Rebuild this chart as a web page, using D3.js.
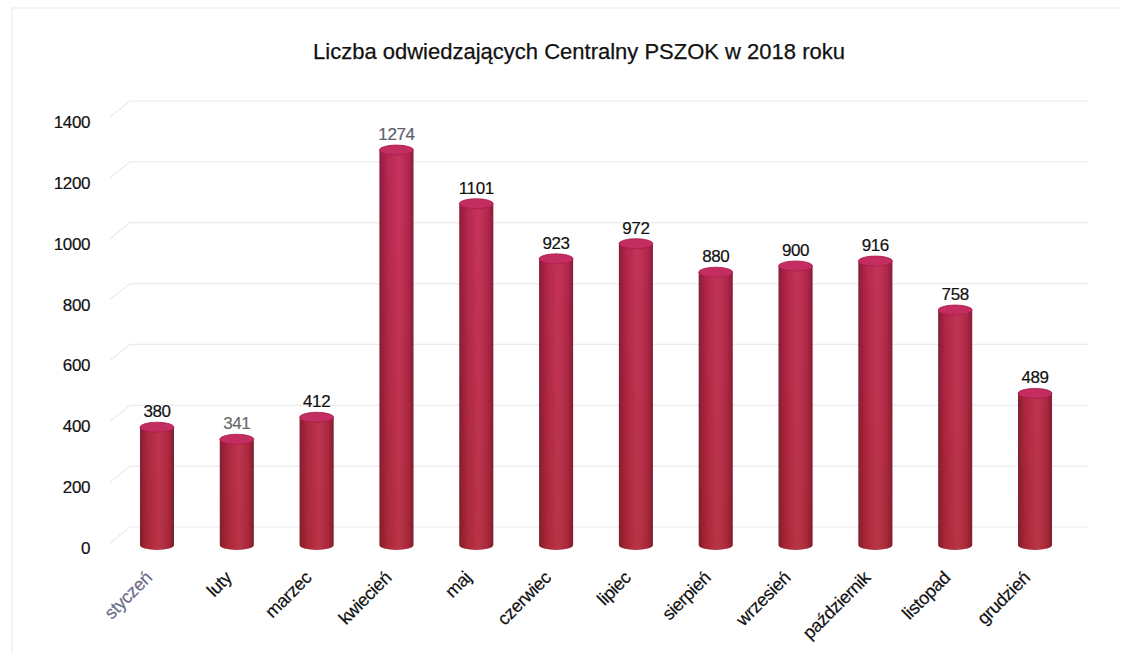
<!DOCTYPE html>
<html><head><meta charset="utf-8">
<script src="https://cdn.jsdelivr.net/npm/d3@7"></script>
<style>body{margin:0;background:#fff;}svg{display:block;font-family:"Liberation Sans",Arial,sans-serif;}</style>
</head><body><svg id="c" width="1130" height="660"></svg>
<script>
const title = "Liczba odwiedzających Centralny PSZOK w 2018 roku";
const months = ["styczeń","luty","marzec","kwiecień","maj","czerwiec","lipiec","sierpień","wrzesień","październik","listopad","grudzień"];
const visitors = [380,341,412,1274,1101,923,972,880,900,916,758,489];
const yTicks = [0,200,400,600,800,1000,1200,1400];
const valueLabelColors = ["#111","#6a6a6a","#111","#5d5d72","#111","#111","#111","#111","#111","#111","#111","#111"];
const monthLabelColors = ["#6c6c8c","#111","#111","#111","#111","#111","#111","#111","#111","#111","#111","#111"];

const svg = d3.select("#c");
const defs = svg.append("defs");

// scales: front axis labels, back-wall gridlines, bars (mid depth)
const yAxis = d3.scaleLinear().domain([0,1400]).range([548,122]);
const yBack = d3.scaleLinear().domain([0,1400]).range([527,101]);
const yBar = d3.scaleLinear().domain([0,1400]).range([545,111]);
const x = d3.scalePoint().domain(months).range([157,1035]);
const bw = 34;

// frame
svg.append("path").attr("d","M12,652 L12,8 L1120,8").attr("fill","none").attr("stroke","#efefef").attr("stroke-width",1.5);

// title
svg.append("text").attr("x",579).attr("y",59).attr("text-anchor","middle")
  .attr("font-size",22).attr("fill","#111").attr("stroke","#111").attr("stroke-width",0.25).text(title);

// gridlines (back wall + side wall diagonal)
const grid = svg.append("g").attr("stroke","#ebebeb").attr("stroke-width",1.2).attr("fill","none");
yTicks.forEach(t=>{
  grid.append("path").attr("d",`M110,${yBack(t)+16} L130,${yBack(t)} L1088,${yBack(t)}`);
});

// y axis labels
svg.append("g").selectAll("text").data(yTicks).join("text")
  .attr("x",90).attr("y",d=>yAxis(d)+6).attr("text-anchor","end")
  .attr("font-size",17).attr("letter-spacing","-0.4").attr("fill","#111")
  .attr("stroke","#111").attr("stroke-width",0.2).text(d=>d);

// gradients
const vg = defs.append("linearGradient").attr("id","vg").attr("gradientUnits","userSpaceOnUse")
  .attr("x1",0).attr("y1",yBar(1400)).attr("x2",0).attr("y2",yBar(0));
vg.append("stop").attr("offset","0%").attr("stop-color","#c4285a");
vg.append("stop").attr("offset","100%").attr("stop-color","#b42a3c");
const hg = defs.append("linearGradient").attr("id","hg").attr("x1","0%").attr("x2","100%").attr("y1","0").attr("y2","0");
hg.append("stop").attr("offset","0%").attr("stop-color","#000").attr("stop-opacity",0.28);
hg.append("stop").attr("offset","25%").attr("stop-color","#000").attr("stop-opacity",0.05);
hg.append("stop").attr("offset","55%").attr("stop-color","#fff").attr("stop-opacity",0.05);
hg.append("stop").attr("offset","85%").attr("stop-color","#000").attr("stop-opacity",0.08);
hg.append("stop").attr("offset","100%").attr("stop-color","#000").attr("stop-opacity",0.3);

const ry = 5;
const bars = svg.append("g").selectAll("g").data(months.map((m,i)=>({m,v:visitors[i],i}))).join("g");
function body(d){
  const cx = x(d.m), l = cx-bw/2, r = cx+bw/2, t = yBar(d.v), b = yBar(0);
  return `M${l},${t} L${l},${b} A${bw/2},${ry} 0 0 0 ${r},${b} L${r},${t} Z`;
}
bars.append("path").attr("d",body).attr("fill","url(#vg)");
bars.append("path").attr("d",body).attr("fill","url(#hg)");
bars.append("ellipse").attr("cx",d=>x(d.m)).attr("cy",d=>yBar(d.v)).attr("rx",bw/2).attr("ry",ry)
  .attr("fill","#c32d62").attr("stroke","#a81e48").attr("stroke-width",0.8);

// value labels
svg.append("g").selectAll("text").data(visitors).join("text")
  .attr("x",(d,i)=>x(months[i])).attr("y",d=>yBar(d)-10).attr("text-anchor","middle")
  .attr("font-size",17).attr("letter-spacing","-0.4").attr("fill",(d,i)=>valueLabelColors[i])
  .attr("stroke",(d,i)=>valueLabelColors[i]).attr("stroke-width",0.2).text(d=>d);

// month labels
svg.append("g").selectAll("text").data(months).join("text")
  .attr("transform",d=>`translate(${x(d)-4},${579}) rotate(-45)`)
  .attr("text-anchor","end").attr("font-size",18).attr("letter-spacing","-0.4")
  .attr("fill",(d,i)=>monthLabelColors[i]).attr("stroke",(d,i)=>monthLabelColors[i]).attr("stroke-width",0.2)
  .text(d=>d);
</script></body></html>
